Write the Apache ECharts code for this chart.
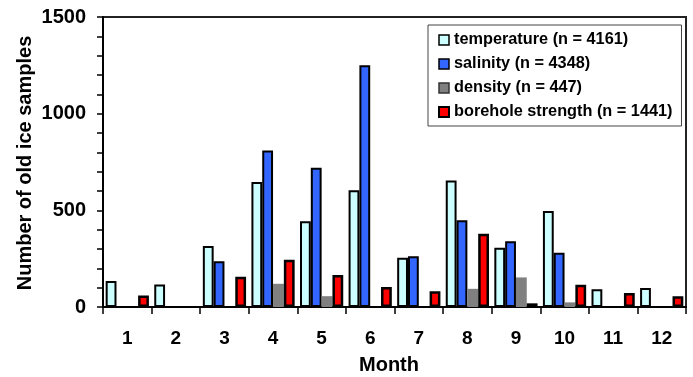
<!DOCTYPE html>
<html>
<head>
<meta charset="utf-8">
<script src="https://cdn.jsdelivr.net/npm/echarts@6/dist/echarts.min.js"></script>
<style>
  html, body { margin: 0; padding: 0; background: #fff; }
  #chart { width: 693px; height: 377px; }
</style>
</head>
<body>
<div id="chart"></div>
<script>
// Monthly counts of old-ice samples by measurement type
const months = ['1', '2', '3', '4', '5', '6', '7', '8', '9', '10', '11', '12'];
const temperature = [134, 116, 316, 646, 443, 604, 255, 654, 307, 496, 92, 98];
const salinity    = [0, 0, 236, 810, 720, 1250, 263, 449, 340, 280, 0, 0];
const density     = [0, 0, 0, 120, 56, 0, 0, 94, 153, 24, 0, 0];
const borehole    = [60, 0, 156, 244, 166, 104, 82, 379, 19, 115, 72, 55];

const seriesNames = [
  'temperature (n = 4161)',
  'salinity (n = 4348)',
  'density (n = 447)',
  'borehole strength (n = 1441)'
];
const yTicks = { min: 0, max: 1500, interval: 500 };

const FONT = '"Liberation Sans", Arial, sans-serif';

const styles = [
  { color: '#CCFFFF', borderColor: '#000', borderWidth: 2 },
  { color: '#3366FF', borderColor: '#000', borderWidth: 2 },
  { color: '#808080', borderColor: '#808080', borderWidth: 0 },
  { color: '#FF0000', borderColor: '#000', borderWidth: 2.5 }
];
const legendIconStyles = [
  { color: '#CCFFFF', borderColor: '#000', borderWidth: 1.5 },
  { color: '#3366FF', borderColor: '#000', borderWidth: 1.5 },
  { color: '#808080', borderColor: '#333', borderWidth: 1.5 },
  { color: '#FF0000', borderColor: '#000', borderWidth: 2 }
];
const values = [temperature, salinity, density, borehole];

// months with no samples get no bar at all (no outline on the baseline)
const noZero = arr => arr.map(v => (v === 0 ? '-' : v));

const chart = echarts.init(document.getElementById('chart'), null, { renderer: 'canvas' });

chart.setOption({
  animation: false,
  backgroundColor: '#fff',
  grid: {
    left: 103, right: 7, top: 17, bottom: 70,
    show: true, borderColor: '#222', borderWidth: 2, backgroundColor: 'transparent'
  },
  legend: {
    orient: 'vertical',
    left: 428, top: 25,
    padding: [7, 9, 6, 10],
    itemGap: 8,
    itemWidth: 10, itemHeight: 10,
    icon: 'rect',
    borderColor: '#444', borderWidth: 1,
    backgroundColor: '#fff',
    textStyle: { fontFamily: FONT, fontWeight: 'bold', fontSize: 16.3, color: '#000' },
    data: seriesNames.map((n, i) => ({ name: n, itemStyle: legendIconStyles[i] }))
  },
  xAxis: {
    type: 'category',
    data: months,
    axisLine: { lineStyle: { color: '#000', width: 2 } },
    axisTick: { show: true, length: 7, lineStyle: { color: '#000', width: 1.5 } },
    axisLabel: { margin: 22, fontFamily: FONT, fontWeight: 'bold', fontSize: 19, color: '#000' }
  },
  yAxis: {
    type: 'value',
    min: yTicks.min, max: yTicks.max, interval: yTicks.interval,
    axisLine: { show: true, lineStyle: { color: '#000', width: 2 } },
    axisTick: { show: true, length: 6, lineStyle: { color: '#000', width: 1.5 } },
    minorTick: { show: true, splitNumber: 5, length: 6, lineStyle: { color: '#000', width: 1.5 } },
    splitLine: { show: false },
    axisLabel: {
      margin: 17, fontFamily: FONT, fontWeight: 'bold', fontSize: 20, color: '#000',
      formatter: v => String(v)
    }
  },
  graphic: [
    {
      type: 'text',
      x: 25, y: 163,
      rotation: Math.PI / 2,
      style: {
        text: 'Number of old ice samples',
        font: 'bold 20px ' + FONT,
        fill: '#000',
        align: 'center',
        verticalAlign: 'middle'
      }
    },
    {
      type: 'text',
      x: 389, y: 365,
      style: {
        text: 'Month',
        font: 'bold 20px ' + FONT,
        fill: '#000',
        align: 'center',
        verticalAlign: 'middle'
      }
    }
  ],
  series: seriesNames.map((name, i) => ({
    name: name,
    type: 'bar',
    data: noZero(values[i]),
    barGap: '0%',
    barCategoryGap: '11%',
    itemStyle: styles[i]
  }))
});
</script>
</body>
</html>
